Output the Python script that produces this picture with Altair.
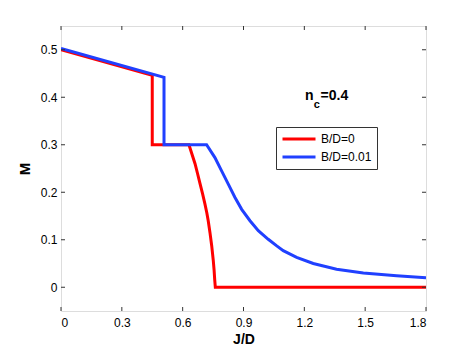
import altair as alt
import pandas as pd

# ---- data ----
red_label = "B/D=0"
blue_label = "B/D=0.01"

red_x = [0.0, 0.45, 0.45, 0.631, 0.646, 0.661, 0.673, 0.685, 0.698, 0.710, 0.719,
         0.726, 0.735, 0.743, 0.751, 0.755, 0.758, 0.761, 1.8]
red_y = [0.500, 0.446, 0.300, 0.300, 0.280, 0.260, 0.240, 0.219, 0.197, 0.175, 0.157,
         0.140, 0.114, 0.088, 0.056, 0.036, 0.016, 0.0, 0.0]

blue_x = [0.0, 0.508, 0.508, 0.718, 0.759, 0.792, 0.825, 0.858, 0.891, 0.932, 0.973,
          1.022, 1.064, 1.096, 1.162, 1.244, 1.359, 1.491, 1.655, 1.8]
blue_y = [0.503, 0.442, 0.300, 0.300, 0.273, 0.245, 0.217, 0.189, 0.164, 0.140, 0.119,
          0.101, 0.087, 0.077, 0.063, 0.050, 0.038, 0.030, 0.024, 0.020]

x_ticks = [0, 0.3, 0.6, 0.9, 1.2, 1.5, 1.8]
y_ticks = [0, 0.1, 0.2, 0.3, 0.4, 0.5]

ann_text = ["n", "c", "=0.4"]
ann_x = [1.203, 1.247, 1.280]
ann_y = [0.395, 0.378, 0.395]
ann_size = [14, 11, 14]

x_domain = [0, 1.8]
y_domain = [-0.05, 0.55]

W, H = 365, 285

red_df = pd.DataFrame({"J": red_x, "M": red_y, "series": red_label,
                       "i": range(len(red_x))})
blue_df = pd.DataFrame({"J": blue_x, "M": blue_y, "series": blue_label,
                        "i": range(len(blue_x))})
xt_df = pd.DataFrame({"v": x_ticks})
yt_df = pd.DataFrame({"v": y_ticks})

FONT = "Liberation Sans"

xscale = alt.Scale(domain=x_domain, nice=False, zero=False)
yscale = alt.Scale(domain=y_domain, nice=False, zero=False)
cscale = alt.Scale(domain=[red_label, blue_label], range=["#ff0000", "#2040ff"])

axis_style = dict(labelFont=FONT, labelFontSize=12, labelColor="black",
                  titleFont=FONT, titleFontWeight="bold",
                  titleColor="black", ticks=False, domain=False, grid=False,
                  format=".1~f")

x_enc = alt.X("J:Q", scale=xscale,
              axis=alt.Axis(title="J/D", values=x_ticks, labelPadding=6,
                            titleFontSize=14, titleBaseline="alphabetic", titleY=32,
                            **axis_style))
y_enc = alt.Y("M:Q", scale=yscale,
              axis=alt.Axis(title="M", values=y_ticks, labelPadding=4,
                            titleFontSize=15, titlePadding=8, **axis_style))

legend = alt.Legend(title=None, orient="none", legendX=215, legendY=101,
                    symbolType="stroke", symbolSize=1089, symbolStrokeWidth=3,
                    labelFontSize=12, labelFont=FONT, labelColor="black",
                    labelOffset=4, padding=5, rowPadding=4,
                    strokeColor="#333333", fillColor="white", clipHeight=14)

red_line = alt.Chart(red_df).mark_line(strokeWidth=3, clip=True).encode(
    x=x_enc, y=y_enc, order="i:Q",
    color=alt.Color("series:N", scale=cscale, legend=legend),
)
blue_line = alt.Chart(blue_df).mark_line(strokeWidth=3, clip=True).encode(
    x=alt.X("J:Q", scale=xscale), y=alt.Y("M:Q", scale=yscale), order="i:Q",
    color=alt.Color("series:N", scale=cscale, legend=legend),
)

tick_color = "#333333"
xt_bottom = alt.Chart(xt_df).mark_rule(color=tick_color).encode(
    x=alt.X("v:Q", scale=xscale), y=alt.value(H), y2=alt.value(H - 4))
xt_top = alt.Chart(xt_df).mark_rule(color=tick_color).encode(
    x=alt.X("v:Q", scale=xscale), y=alt.value(0), y2=alt.value(4))
yt_left = alt.Chart(yt_df).mark_rule(color=tick_color).encode(
    y=alt.Y("v:Q", scale=yscale), x=alt.value(0), x2=alt.value(4))
yt_right = alt.Chart(yt_df).mark_rule(color=tick_color).encode(
    y=alt.Y("v:Q", scale=yscale), x=alt.value(W), x2=alt.value(W - 4))

ann_df = pd.DataFrame({"t": ann_text, "J": ann_x, "M": ann_y, "s": ann_size})
ann = alt.Chart(ann_df).mark_text(font=FONT, fontWeight="bold", align="left",
                                  baseline="alphabetic", color="black").encode(
    x=alt.X("J:Q", scale=xscale), y=alt.Y("M:Q", scale=yscale), text="t:N",
    size=alt.Size("s:Q", scale=None, legend=None),
)

chart = alt.layer(red_line, blue_line, xt_bottom, xt_top, yt_left, yt_right, ann).properties(
    width=W, height=H,
    autosize=alt.AutoSizeParams(type="none"),
    padding={"left": 53, "top": 18, "right": 30, "bottom": 35},
).configure_view(
    stroke="#262626", strokeWidth=1,
).configure(background="white")

chart.save("out.html", embed_options={"renderer": "svg", "actions": False})
